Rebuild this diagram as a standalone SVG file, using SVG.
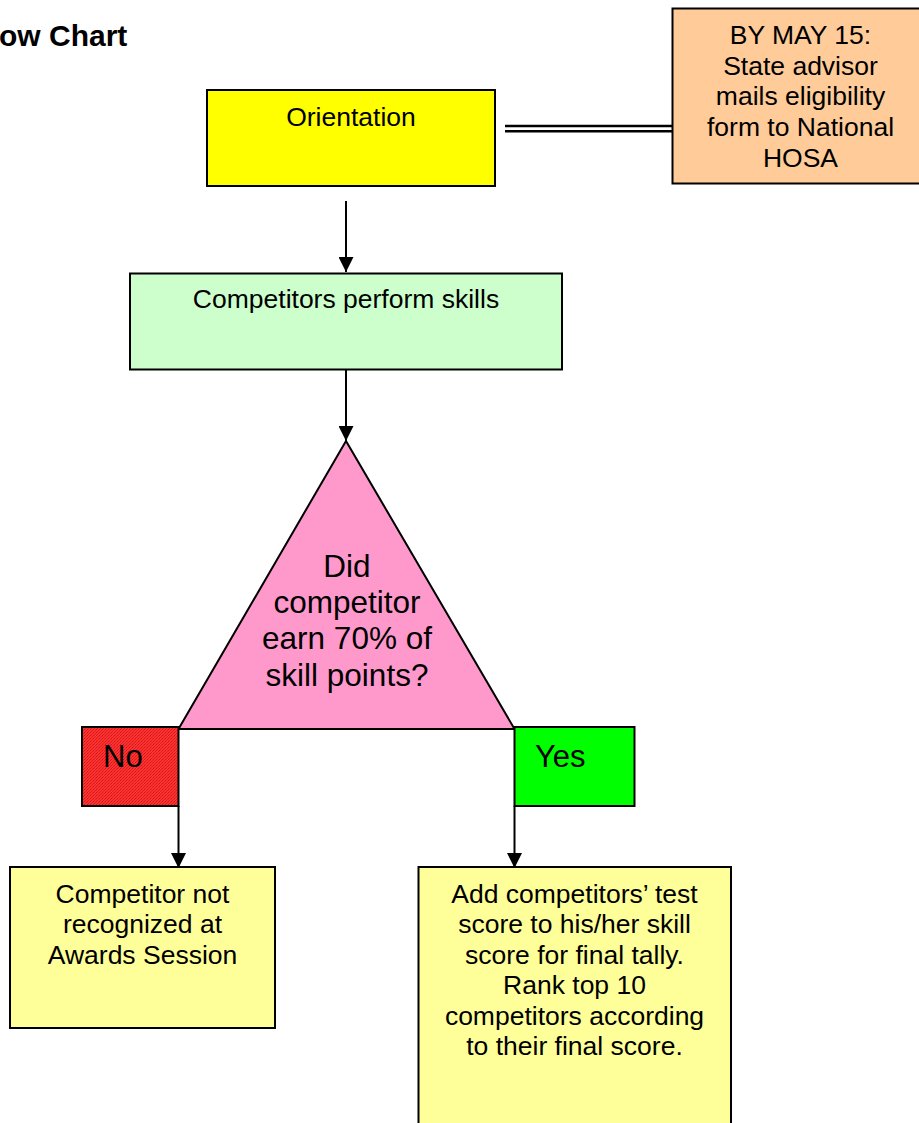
<svg xmlns="http://www.w3.org/2000/svg" width="919" height="1123" viewBox="0 0 919 1123">
<style>
.t{font-family:"Liberation Sans",Arial,sans-serif;font-size:26.5px;fill:#000;text-anchor:middle}
.big{font-size:31.5px}
.lbl{font-family:"Liberation Sans",Arial,sans-serif;font-size:31px;fill:#000}
.box{stroke:#000;stroke-width:2}
.ln{stroke:#000;stroke-width:2;fill:none}
.dbl{stroke:#000;stroke-width:2.4;fill:none}
</style>
<defs>
<marker id="ah" markerWidth="15" markerHeight="15" viewBox="0 0 15 15" refX="15" refY="7.5" orient="auto" markerUnits="userSpaceOnUse">
<path d="M0,0 L15,7.5 L0,15 Z" fill="#000"/>
</marker>
<pattern id="dots" width="3" height="3" patternUnits="userSpaceOnUse">
<rect width="3" height="3" fill="#ff3030"/>
<rect x="0" y="0" width="1" height="1" fill="#c81818"/>
<rect x="2" y="1" width="1" height="1" fill="#d82020"/>
<rect x="1" y="2" width="1" height="1" fill="#d82020"/>
</pattern>
</defs>
<rect width="919" height="1123" fill="#fff"/>
<text x="-1" y="46" font-family="Liberation Sans,Arial,sans-serif" font-size="30" font-weight="bold">ow Chart</text>

<g id="connectors">
<line class="ln" x1="346" y1="201" x2="346" y2="272" marker-end="url(#ah)"/>
<line class="ln" x1="346" y1="369" x2="346" y2="441" marker-end="url(#ah)"/>
<line class="ln" x1="178.5" y1="806" x2="178.5" y2="868" marker-end="url(#ah)"/>
<line class="ln" x1="514.5" y1="806" x2="514.5" y2="868" marker-end="url(#ah)"/>
<line class="dbl" x1="505" y1="126" x2="672" y2="126"/>
<line class="dbl" x1="505" y1="131.3" x2="672" y2="131.3"/>
</g>

<g id="orientation">
<rect class="box" x="207" y="90" width="288" height="96" fill="#ffff00"/>
<text class="t" x="351" y="126">Orientation</text>
</g>

<g id="deadline">
<rect class="box" x="672.5" y="8.5" width="260" height="175" fill="#ffcc99"/>
<text class="t" x="800.5" y="44">BY MAY 15:</text>
<text class="t" x="800.5" y="74.7">State advisor</text>
<text class="t" x="800.5" y="105.3">mails eligibility</text>
<text class="t" x="800.5" y="136">form to National</text>
<text class="t" x="800.5" y="166.7">HOSA</text>
</g>

<g id="perform">
<rect class="box" x="130" y="273.5" width="432" height="96" fill="#ccffcc"/>
<text class="t" x="346" y="308">Competitors perform skills</text>
</g>

<g id="decision">
<polygon class="box" points="346,441 178.5,729 514.5,729" fill="#ff99cc"/>
<text class="t big" x="347" y="577">Did</text>
<text class="t big" x="347" y="613">competitor</text>
<text class="t big" x="347" y="649">earn 70% of</text>
<text class="t big" x="347" y="686">skill points?</text>
</g>

<g id="no">
<rect class="box" x="82" y="727" width="96.5" height="79" fill="url(#dots)"/>
<text class="lbl" x="103" y="767">No</text>
</g>

<g id="yes">
<rect class="box" x="514.5" y="727" width="120" height="79" fill="#00ff00"/>
<text class="lbl" x="535" y="767">Yes</text>
</g>

<g id="not-recognized">
<rect class="box" x="10" y="867" width="265" height="161" fill="#ffff99"/>
<text class="t" x="142.5" y="902.7">Competitor not</text>
<text class="t" x="142.5" y="933.2">recognized at</text>
<text class="t" x="142.5" y="963.7">Awards Session</text>
</g>

<g id="final-tally">
<rect class="box" x="418.5" y="867" width="312.5" height="270" fill="#ffff99"/>
<text class="t" x="574.5" y="902.7">Add competitors’ test</text>
<text class="t" x="574.5" y="933.2">score to his/her skill</text>
<text class="t" x="574.5" y="963.7">score for final tally.</text>
<text class="t" x="574.5" y="994.2">Rank top 10</text>
<text class="t" x="574.5" y="1024.7">competitors according</text>
<text class="t" x="574.5" y="1055.2">to their final score.</text>
</g>
</svg>
